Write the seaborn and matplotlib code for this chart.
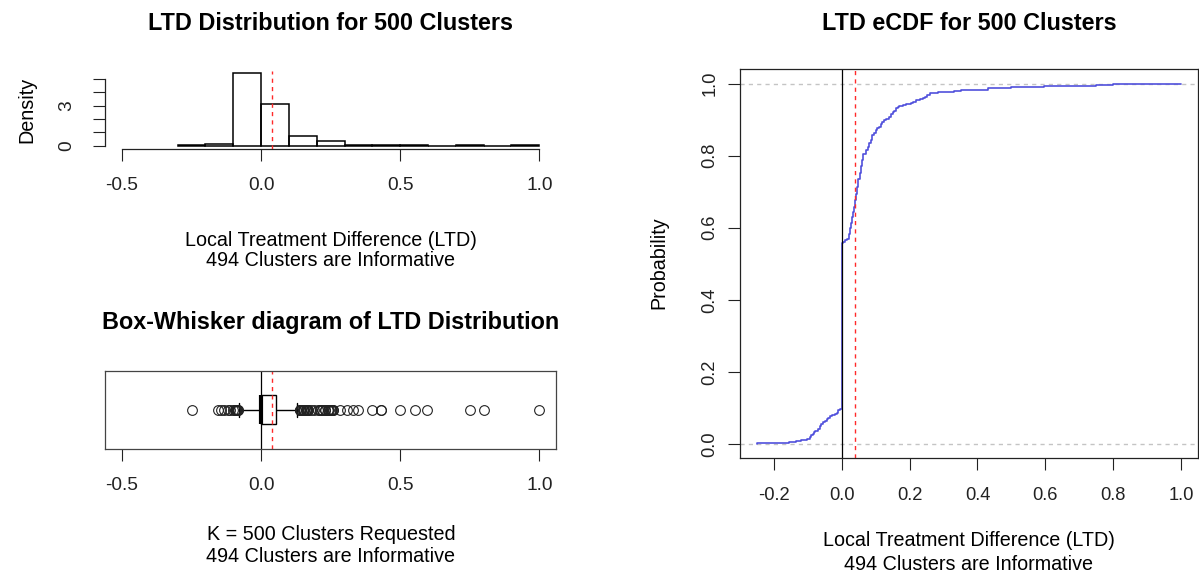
import numpy as np
import pandas as pd
import matplotlib
matplotlib.use("Agg")
import matplotlib.pyplot as plt
import seaborn as sns
from matplotlib.ticker import FormatStrFormatter

# ---- data: unique LTD values and number of clusters with each value (494 informative) ----
ltd_values = [-0.25,
              -0.155, -0.145, -0.135, -0.12, -0.11, -0.102,
              -0.095, -0.09, -0.085, -0.082,
              -0.078, -0.07, -0.065, -0.06, -0.055, -0.05,
              -0.045, -0.04, -0.035, -0.03,
              -0.02, -0.015, -0.01, -0.005,
              0.0,
              0.005, 0.01, 0.015,
              0.02, 0.024,
              0.027, 0.03, 0.033, 0.035,
              0.038, 0.042,
              0.045, 0.049, 0.053,
              0.056, 0.06, 0.064,
              0.07, 0.076,
              0.08, 0.085, 0.09,
              0.095, 0.1,
              0.105, 0.11,
              0.115, 0.12, 0.125, 0.13,
              0.14, 0.145, 0.15,
              0.155, 0.16, 0.165, 0.17,
              0.18, 0.19,
              0.205, 0.21, 0.22, 0.23,
              0.24, 0.245, 0.25, 0.255, 0.26,
              0.285,
              0.31, 0.33, 0.35, 0.40,
              0.43, 0.50,
              0.553, 0.595,
              0.75, 0.80, 1.0]
ltd_counts = [1,
              1, 1, 1, 1, 1, 1,
              2, 3, 2, 2,
              2, 3, 3, 3, 3, 2,
              2, 2, 2, 1,
              2, 2, 3, 2,
              227,
              2, 2, 2,
              7, 8,
              7, 8, 7, 7,
              9, 9,
              10, 10, 9,
              9, 9, 8,
              5, 4,
              5, 5, 6,
              4, 3,
              3, 2,
              4, 3, 2, 2,
              3, 3, 3,
              2, 3, 2, 2,
              1, 1,
              1, 2, 2, 2,
              2, 1, 2, 1, 2,
              1,
              1, 1, 1, 1,
              2, 1,
              1, 1,
              1, 1, 1]
hist_bin_edges = [-0.3, -0.2, -0.1, 0.0, 0.1, 0.2, 0.3, 0.4, 0.5, 0.6, 0.7, 0.8, 0.9, 1.0]
hist_xticks = [-0.5, 0.0, 0.5, 1.0]
hist_yticks = [0, 1, 2, 3, 4, 5]
hist_ytick_labels = ["0", "", "", "3", "", ""]
ecdf_xticks = [-0.2, 0.0, 0.2, 0.4, 0.6, 0.8, 1.0]
ecdf_yticks = [0.0, 0.2, 0.4, 0.6, 0.8, 1.0]

n_requested = 500
df = pd.DataFrame({"ltd": ltd_values, "n": ltd_counts})
n_inf = int(df["n"].sum())
all_ltd = np.repeat(df["ltd"].to_numpy(), df["n"].to_numpy())
mean_ltd = float(all_ltd.mean())

# ---- style ----
sns.set_theme(style="ticks", rc={
    "axes.edgecolor": "#222222", "axes.linewidth": 0.9,
    "xtick.color": "#222222", "ytick.color": "#222222",
    "text.color": "black", "axes.labelcolor": "black",
    "xtick.major.size": 8.5, "ytick.major.size": 8.5,
    "xtick.major.width": 0.8, "ytick.major.width": 0.8,
    "axes.unicode_minus": False,
})
plt.rcParams["font.family"] = ["Liberation Sans", "DejaVu Sans"]

TITLE_FS = 16.8
LABEL_FS = 14.2
TICK_L_FS = 13.8
TICK_R_FS = 13.2

W, H = 1199, 573
fig = plt.figure(figsize=(W / 100, H / 100), dpi=100)


def px_axes(l, t, r, b):
    return fig.add_axes([l / W, 1 - b / H, (r - l) / W, (b - t) / H])


def ftext(x, y, s, **kw):
    fig.text(x / W, 1 - y / H, s, ha="center", va="center", **kw)


ax_hist = px_axes(105.3, 70.5, 556, 148.5)
ax_box = px_axes(105.3, 370.7, 556, 449)
ax_ecdf = px_axes(740, 69.3, 1198, 458.3)

# ---- histogram (right-closed bins like R: shift edges by a hair) ----
edges = [float(e) + 1e-9 for e in hist_bin_edges]
sns.histplot(data=df, x="ltd", weights="n", bins=edges, stat="density", fill=False,
             element="bars", color="black", linewidth=1.1, ax=ax_hist)
ax_hist.axvline(mean_ltd, color="#ff2a2a", lw=1.0, ls=(0, (3, 3)))
ax_hist.set_xlim(-0.56, 1.06)
ax_hist.set_ylim(-0.217, 5.64)
ax_hist.set_xticks(hist_xticks)
ax_hist.xaxis.set_major_formatter(FormatStrFormatter("%.1f"))
ax_hist.set_yticks(hist_yticks)
ax_hist.set_yticklabels(hist_ytick_labels)
for s in ["top", "right"]:
    ax_hist.spines[s].set_visible(False)
ax_hist.spines["bottom"].set_bounds(-0.5, 1.0)
ax_hist.spines["left"].set_bounds(0, 5)
ax_hist.tick_params(axis="x", labelsize=TICK_L_FS, pad=12)
ax_hist.tick_params(axis="y", labelsize=TICK_L_FS, pad=13, labelrotation=90)
for lab in ax_hist.get_yticklabels():
    lab.set_va("center")
ax_hist.set_xlabel("")
ax_hist.set_ylabel("")

# ---- boxplot ----
sns.boxplot(x=all_ltd, ax=ax_box, orient="h", width=0.4, color="white",
            linecolor="black", linewidth=1.0,
            flierprops=dict(marker="o", markerfacecolor="none", markeredgecolor="#222222",
                            markersize=7, markeredgewidth=0.8),
            medianprops=dict(linewidth=3, color="black"))
ax_box.axvline(0, color="black", lw=0.9, zorder=0.5)
ax_box.axvline(mean_ltd, color="#ff2a2a", lw=1.0, ls=(0, (3, 3)))
ax_box.set_xlim(-0.56, 1.06)
ax_box.set_ylim(0.54, -0.54)
ax_box.set_yticks([])
ax_box.set_xticks(hist_xticks)
ax_box.xaxis.set_major_formatter(FormatStrFormatter("%.1f"))
ax_box.tick_params(axis="x", labelsize=TICK_L_FS, pad=12)
for s in ax_box.spines.values():
    s.set_visible(True)
    s.set_color("#444444")
ax_box.set_xlabel("")
ax_box.set_ylabel("")

# ---- eCDF ----
ax_ecdf.axhline(0, color="#c4c4c4", lw=1.0, ls=(0, (3, 3)))
ax_ecdf.axhline(1, color="#c4c4c4", lw=1.0, ls=(0, (3, 3)))
sns.ecdfplot(data=df, x="ltd", weights="n", ax=ax_ecdf, color="#5050dc", linewidth=1.2)
ax_ecdf.axvline(0, color="black", lw=0.9)
ax_ecdf.axvline(mean_ltd, color="#ff2a2a", lw=1.0, ls=(0, (3, 3)))
ax_ecdf.set_xlim(-0.30, 1.05)
ax_ecdf.set_ylim(-0.04, 1.04)
ax_ecdf.set_xticks(ecdf_xticks)
ax_ecdf.set_yticks(ecdf_yticks)
ax_ecdf.xaxis.set_major_formatter(FormatStrFormatter("%.1f"))
ax_ecdf.yaxis.set_major_formatter(FormatStrFormatter("%.1f"))
ax_ecdf.tick_params(axis="x", labelsize=TICK_R_FS, pad=12)
ax_ecdf.tick_params(axis="y", labelsize=TICK_R_FS, pad=7, labelrotation=90)
for lab in ax_ecdf.get_yticklabels():
    lab.set_va("center")
for s in ax_ecdf.spines.values():
    s.set_visible(True)
ax_ecdf.set_xlabel("")
ax_ecdf.set_ylabel("")

# ---- titles and labels ----
ftext(331, 23, f"LTD Distribution for {n_requested} Clusters", fontsize=TITLE_FS, fontweight="bold")
ftext(331, 323, "Box-Whisker diagram of LTD Distribution", fontsize=TITLE_FS, fontweight="bold")
ftext(969, 23, f"LTD eCDF for {n_requested} Clusters", fontsize=TITLE_FS, fontweight="bold")
ftext(27, 110, "Density", fontsize=LABEL_FS, rotation=90)
ftext(659, 263, "Probability", fontsize=LABEL_FS, rotation=90)
ftext(331, 240, "Local Treatment Difference (LTD)", fontsize=LABEL_FS)
ftext(331, 260, f"{n_inf} Clusters are Informative", fontsize=LABEL_FS)
ftext(331, 534, f"K = {n_requested} Clusters Requested", fontsize=LABEL_FS)
ftext(331, 557, f"{n_inf} Clusters are Informative", fontsize=LABEL_FS)
ftext(969, 541, "Local Treatment Difference (LTD)", fontsize=LABEL_FS)
ftext(969, 564, f"{n_inf} Clusters are Informative", fontsize=LABEL_FS)

fig.savefig("out.png", dpi=100)
